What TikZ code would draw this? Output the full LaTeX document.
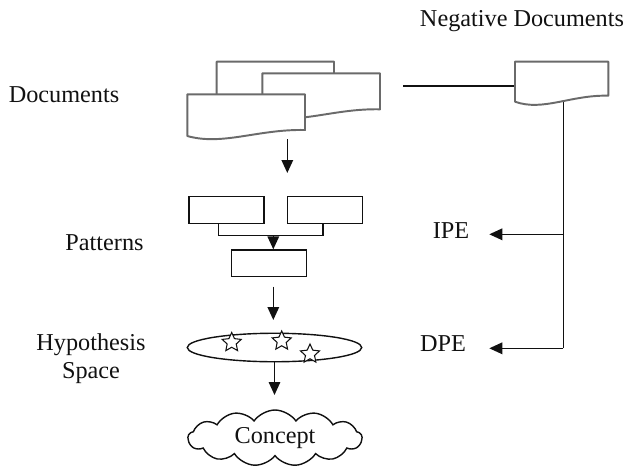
\documentclass[tikz,border=0pt]{standalone}
\usepackage{fontspec}
\setmainfont{Liberation Serif}
\usetikzlibrary{arrows.meta,positioning,calc,shapes.geometric,shapes.symbols}
\definecolor{ink}{HTML}{111111}
\definecolor{docgray}{HTML}{6A6A6A}
\tikzset{
  docline/.style={draw=docgray,line width=1.1pt,fill=white,line join=round},
  patbox/.style={rectangle,draw=ink,line width=0.8pt,fill=white,
    minimum width=1.5cm,minimum height=0.53cm,inner sep=0pt},
  flowline/.style={line width=0.8pt,color=ink},
  flowarr/.style={-{Triangle[length=2.6mm,width=2.3mm]},line width=0.9pt,color=ink},
  lbl/.style={font=\fontsize{13.8}{16}\selectfont,text=ink,align=center,inner sep=0pt},
  hypstar/.style={star,star points=5,star point ratio=2.1,draw=ink,fill=white,
    line width=0.6pt,minimum size=0.4cm,inner sep=0pt},
}
% document sheet: name, left, top, width, height (pixel units)
\newcommand\docsheet[5]{%
  \draw[docline] (#2,#3) -- ({#2+#4},#3) -- ({#2+#4},{#3+#5-6})
    .. controls ({#2+0.6*#4},{#3+#5-7}) and ({#2+0.3*#4},{#3+#5+10}) .. (#2,{#3+#5}) -- cycle;
  \coordinate (#1) at ({#2+0.5*#4},{#3+0.5*#5});
}

\begin{document}
\begin{tikzpicture}[x=0.02cm,y=-0.02cm]
  \useasboundingbox (0,0) rectangle (627,468);

  % labels on the left
  \node[lbl] (doclbl) at (64,95) {Documents};
  \node[lbl] (patlbl) at (104.5,243) {Patterns};
  \node[lbl] (hyplbl) at (91,359) {Hypothesis\\Space};
  \node[lbl] (neglbl) at (522,21) {Negative Documents};
  \node[lbl] (ipe) at (451,231) {IPE};
  \node[lbl] (dpe) at (443,344) {DPE};

  % document stack
  \docsheet{docback}{216.7}{61.7}{117.3}{42}
  \docsheet{docmid}{262.3}{73.3}{117.7}{42}
  \docsheet{docfront}{187.3}{94.3}{117.7}{41.7}

  % negative documents
  \coordinate (docsend) at (403.3,86);
  \coordinate (negbot) at (563.3,95);
  \coordinate (ipej) at (563.3,234.3);
  \coordinate (dpej) at (563.3,348.3);
  \coordinate (ipetip) at (489.3,234.3);
  \coordinate (dpetip) at (489.3,348.3);
  \draw[flowline] (negbot) -- (dpej);
  \draw[flowline] (docsend) -- (docsend -| 520,0);
  \docsheet{negdoc}{515}{61.7}{93.3}{40}
  \draw[flowarr] (ipej) -- (ipetip);
  \draw[flowarr] (dpej) -- (dpetip);

  % patterns
  \node[patbox] (pa) at (226.5,210) {};
  \node[patbox] (pb) at (324.8,210) {};
  \node[patbox] (pc) at (269,263.3) {};
  \coordinate (docarr) at (287.3,139);
  \coordinate (docarrend) at (287.3,173);
  \draw[flowarr] (docarr) -- (docarrend);
  \draw[flowline] ([xshift=-0.16cm]pa.south) -- ++(0,11.7) coordinate (brkl)
    -| ([xshift=-0.04cm]pb.south);
  \coordinate (brkmid) at (273.3,235);
  \draw[flowarr] (brkmid) -- (brkmid |- pc.north);

  % hypothesis space
  \node[ellipse,draw=ink,line width=0.8pt,minimum width=3.49cm,minimum height=0.57cm,
    inner sep=0pt] (hyp) at (274.5,347.5) {};
  \node[hypstar] (s1) at (231.7,342.5) {};
  \node[hypstar] (s2) at (281.7,341) {};
  \node[hypstar] (s3) at (310,354) {};
  \coordinate (patout) at (273.3,286.7);
  \draw[flowarr] (patout) -- (273.3,320) coordinate (hypin);

  % concept
  \node[cloud,cloud puffs=13,cloud puff arc=110,cloud ignores aspect,draw=ink,
    line width=0.8pt,minimum width=3.48cm,minimum height=1.12cm,lbl,inner sep=0pt]
    (cpt) at (275,438) {Concept};
  \coordinate (cptin) at (274.5,395);
  \draw[flowarr] (hyp.south) -- (cptin);
\end{tikzpicture}
\end{document}
